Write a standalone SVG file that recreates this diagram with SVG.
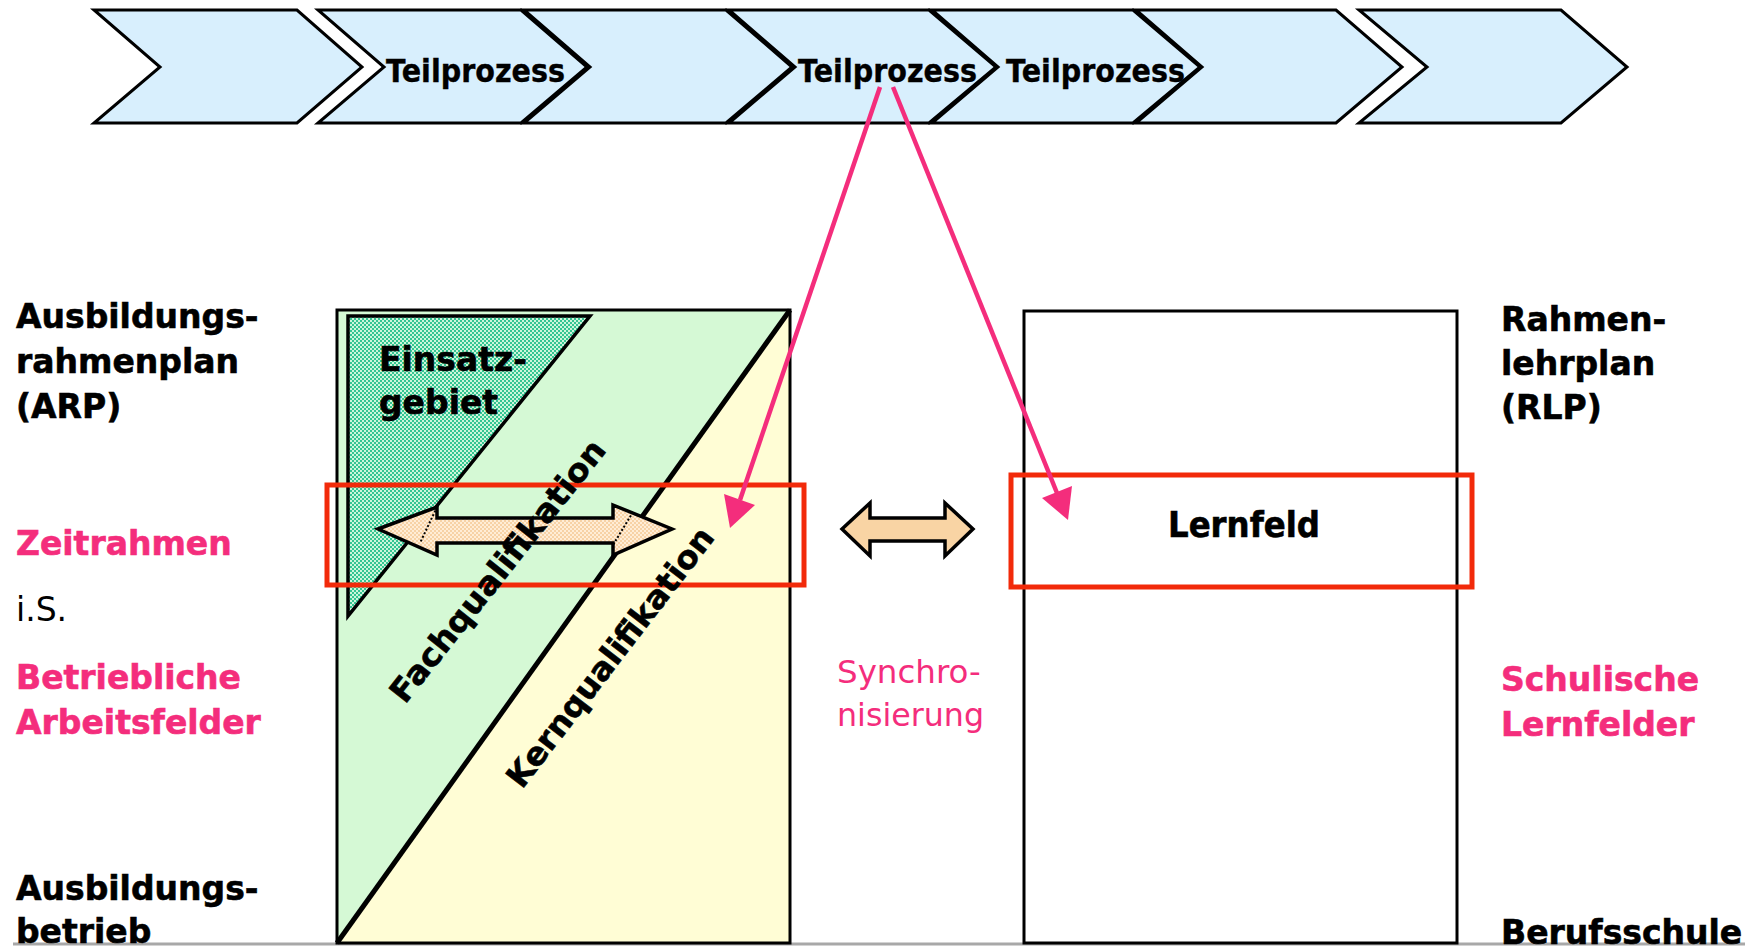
<svg xmlns="http://www.w3.org/2000/svg" width="1755" height="950" viewBox="0 0 1755 950">
<defs>
<pattern id="teal" patternUnits="userSpaceOnUse" width="4" height="4">
<rect width="4" height="4" fill="#CDF6DA"/>
<rect width="2" height="2" fill="#34C592"/>
<rect x="2" y="2" width="2" height="2" fill="#34C592"/>
</pattern>
<pattern id="peach" patternUnits="userSpaceOnUse" width="4" height="4">
<rect width="4" height="4" fill="#FFEDD6"/>
<rect width="2" height="2" fill="#F7D2A6"/>
<rect x="2" y="2" width="2" height="2" fill="#F7D2A6"/>
</pattern>
</defs>
<style>
.chev{fill:#D8EFFD;stroke:#000;stroke-width:3;stroke-linejoin:miter}
.tp{font-family:"DejaVu Sans",sans-serif;font-weight:bold;font-size:32px;fill:#000;stroke:#000;stroke-width:0.4}
.lbl{font-family:"DejaVu Sans",sans-serif;font-weight:bold;font-size:33px;fill:#000;stroke:#000;stroke-width:0.6}
.pink{fill:#F42D7C;stroke:#F42D7C}
.reg{font-family:"DejaVu Sans",sans-serif;font-size:33px}
.redbox{fill:none;stroke:#F22A0A;stroke-width:5}
.conn{stroke:#F42D7C;stroke-width:4.5;fill:none}
.head{fill:#F42D7C}
</style>
<rect width="1755" height="950" fill="#fff"/>

<line x1="13" y1="944" x2="1745" y2="944" stroke="#A8A8A8" stroke-width="3"/>

<g id="process-chain">
<polygon class="chev" points="94,10 297,10 362,67 297,123 94,123 160,67"/>
<polygon class="chev" points="318,10 521,10 587,67 521,123 318,123 384,67"/>
<polygon class="chev" points="524,10 726,10 792,67 726,123 524,123 590,67"/>
<polygon class="chev" points="729,10 929,10 996,67 929,123 729,123 795,67"/>
<polygon class="chev" points="932,10 1133,10 1200,67 1133,123 932,123 998,67"/>
<polygon class="chev" points="1136,10 1336,10 1402,67 1336,123 1136,123 1202,67"/>
<polygon class="chev" points="1359,10 1561,10 1627,67 1561,123 1359,123 1427,67"/>
<text class="tp" x="386" y="82" textLength="179" lengthAdjust="spacingAndGlyphs">Teilprozess</text>
<text class="tp" x="798" y="82" textLength="179" lengthAdjust="spacingAndGlyphs">Teilprozess</text>
<text class="tp" x="1006" y="82" textLength="179" lengthAdjust="spacingAndGlyphs">Teilprozess</text>
</g>

<g id="arp-box">
<rect x="337" y="310" width="453" height="633" fill="#D5F9D5"/>
<polygon points="790,310 790,943 337,943" fill="#FFFDD5"/>
<line x1="790" y1="310" x2="337" y2="943" stroke="#000" stroke-width="5"/>
<rect x="337" y="310" width="453" height="633" fill="none" stroke="#000" stroke-width="3"/>
</g>

<g id="einsatzgebiet">
<polygon points="348,316 590,316 348,616" fill="url(#teal)" stroke="#000" stroke-width="3.5"/>
<text class="lbl" x="379" y="371">Einsatz-</text>
<text class="lbl" x="379" y="414">gebiet</text>
</g>

<g id="rlp-box">
<rect x="1024" y="311" width="433" height="632" fill="#fff" stroke="#000" stroke-width="3"/>
</g>

<g id="zeitrahmen-left">
<rect x="327" y="485" width="477" height="100" class="redbox"/>
</g>

<g id="lernfeld">
<rect x="1011" y="475" width="461" height="112" class="redbox"/>
<text class="lbl" x="1168" y="537" style="font-size:35px" textLength="152" lengthAdjust="spacingAndGlyphs">Lernfeld</text>
</g>

<g id="inner-arrow">
<polygon points="378,529 437,507 437,518 613,518 613,505 672,529 613,555 613,543 437,543 437,555" fill="url(#peach)" stroke="#000" stroke-width="3.5" stroke-linejoin="miter"/>
<line x1="437" y1="507" x2="420" y2="543" stroke="#000" stroke-width="2" stroke-dasharray="2,2"/>
<line x1="633" y1="512" x2="613" y2="545" stroke="#000" stroke-width="2" stroke-dasharray="2,2"/>
</g>

<g id="quali-labels">
<text class="lbl" transform="translate(405,705) rotate(-51.5)" textLength="325" lengthAdjust="spacingAndGlyphs" style="font-size:32px">Fachqualifikation</text>
<text class="lbl" transform="translate(522,790) rotate(-52.5)" textLength="318" lengthAdjust="spacingAndGlyphs" style="font-size:32px">Kernqualifikation</text>
</g>

<g id="sync-arrow">
<polygon points="842,529 870,503 870,518 945,518 945,503 973,529 945,556 945,541 870,541 870,556" fill="#F9D4A4" stroke="#000" stroke-width="3.5"/>
<text class="reg pink" x="837" y="683" style="font-size:32.5px;stroke:none">Synchro-</text>
<text class="reg pink" x="837" y="726" style="font-size:32.5px;stroke:none" textLength="147" lengthAdjust="spacingAndGlyphs">nisierung</text>
</g>

<g id="left-labels">
<text class="lbl" x="16" y="328">Ausbildungs-</text>
<text class="lbl" x="16" y="373">rahmenplan</text>
<text class="lbl" x="16" y="418">(ARP)</text>
<text class="lbl pink" x="16" y="555">Zeitrahmen</text>
<text class="reg" x="16" y="621" fill="#000">i.S.</text>
<text class="lbl pink" x="16" y="689">Betriebliche</text>
<text class="lbl pink" x="16" y="734">Arbeitsfelder</text>
<text class="lbl" x="16" y="900">Ausbildungs-</text>
<text class="lbl" x="16" y="943">betrieb</text>
</g>

<g id="right-labels">
<text class="lbl" x="1501" y="331">Rahmen-</text>
<text class="lbl" x="1501" y="375">lehrplan</text>
<text class="lbl" x="1501" y="419">(RLP)</text>
<text class="lbl pink" x="1501" y="691">Schulische</text>
<text class="lbl pink" x="1501" y="736">Lernfelder</text>
<text class="lbl" x="1501" y="944">Berufsschule</text>
</g>

<g id="connectors">
<line class="conn" x1="880" y1="87" x2="740" y2="500"/>
<polygon class="head" points="730,528 755,505 724,494"/>
<line class="conn" x1="893" y1="87" x2="1057" y2="493"/>
<polygon class="head" points="1068,520 1072,486 1042,498"/>
</g>
</svg>
